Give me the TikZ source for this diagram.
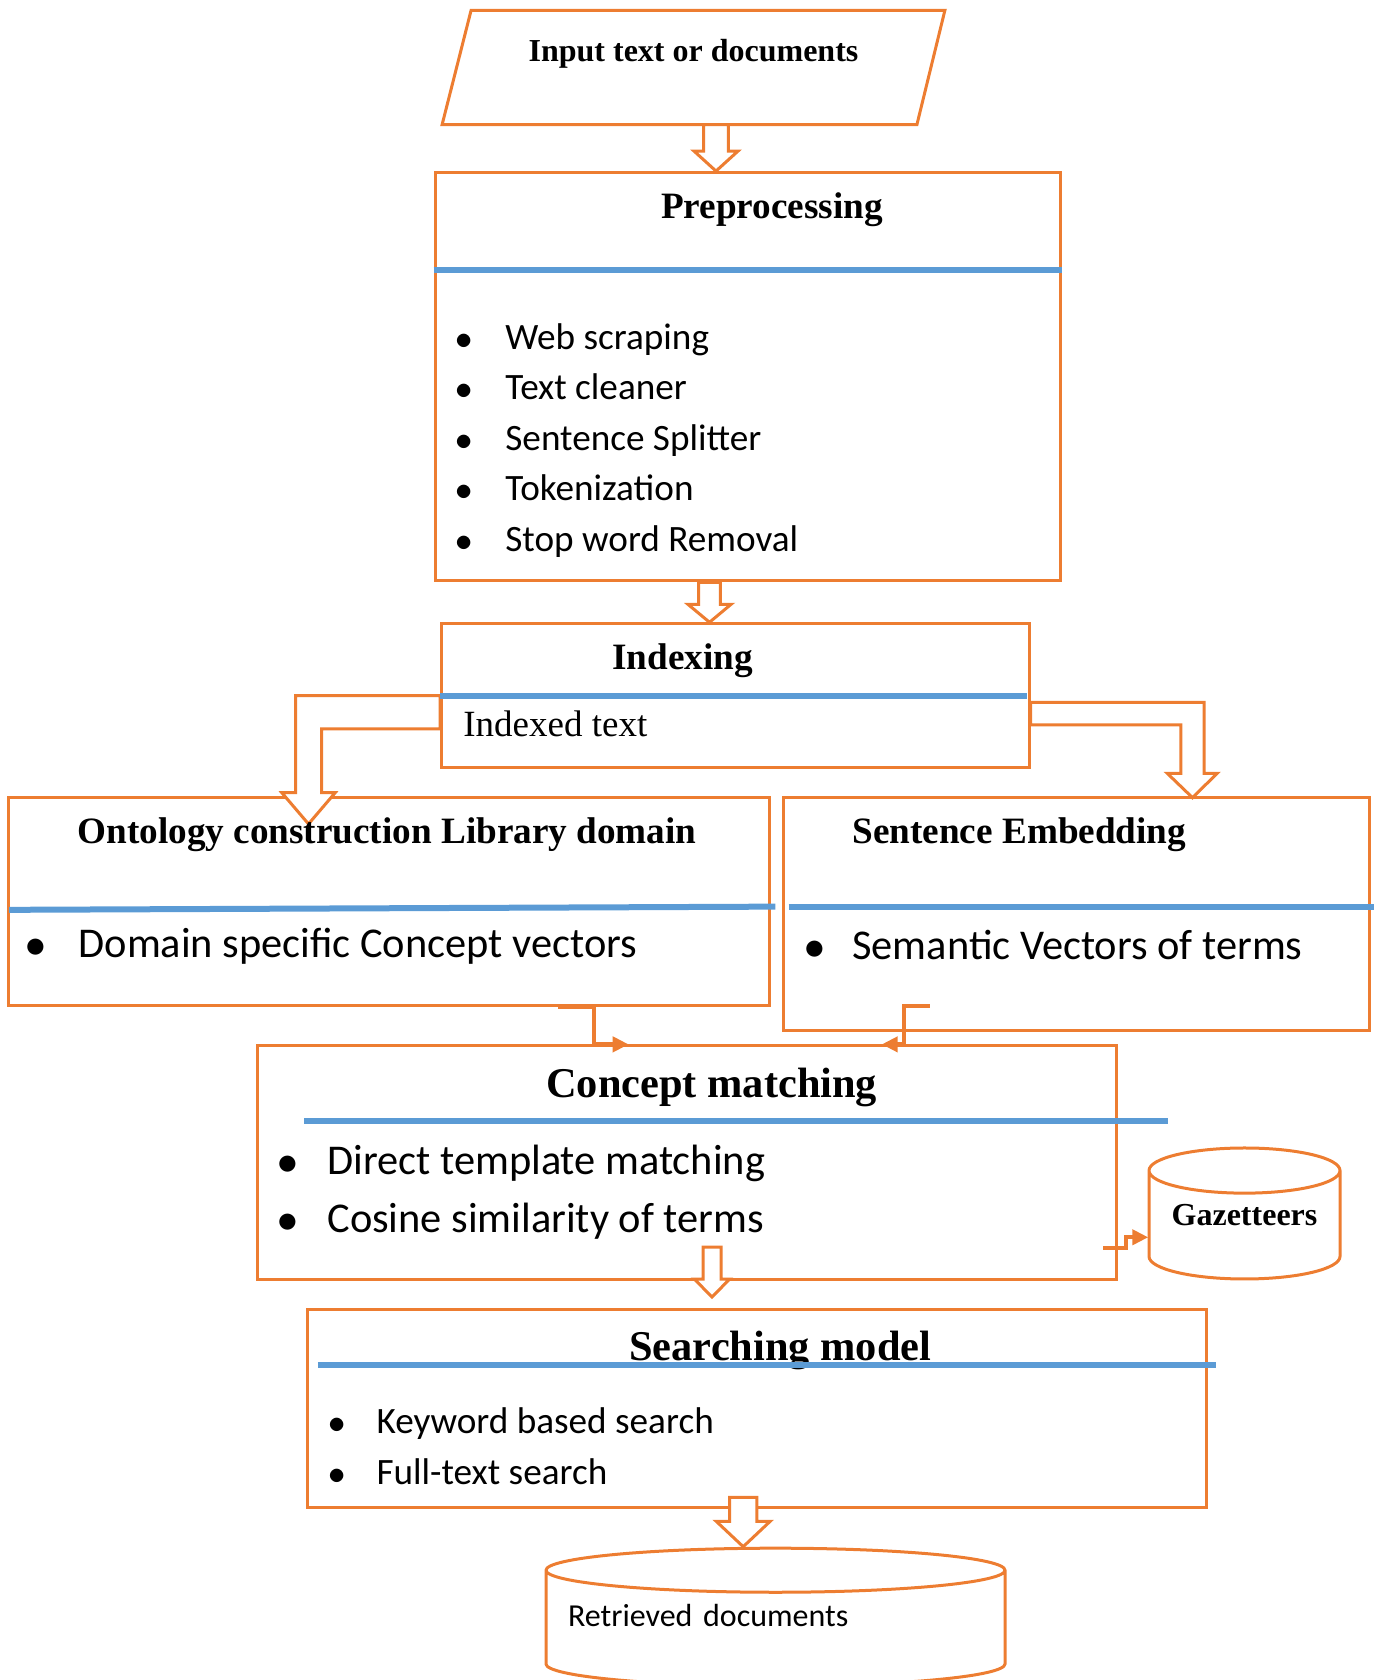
\documentclass[tikz,border=0pt]{standalone}
\usepackage{fontspec}
\setmainfont{Liberation Serif}
\newfontfamily\carlito{Carlito}
\usetikzlibrary{calc,shapes.geometric,arrows.meta}
\definecolor{boxorange}{HTML}{ED7D31}
\definecolor{rulerblue}{HTML}{5B9BD5}
\newcommand{\bul}[1]{\makebox[#1][c]{$\bullet$}}
\newcommand{\blockdown}[5]{%
  \draw[hollow] let \p1=#1, \p2=#2 in
    (\x2-#3,\y1) -- (\x2-#3,\y2+#5) -- (\x2-#4,\y2+#5) -- (\x2,\y2)
    -- (\x2+#4,\y2+#5) -- (\x2+#3,\y2+#5) -- (\x2+#3,\y1) -- cycle;}
\tikzset{
  box/.style={draw=boxorange, line width=1.5pt, inner sep=0pt},
  hollow/.style={draw=boxorange, line width=1.5pt, fill=white, line join=miter},
  link/.style={draw=boxorange, line width=2pt, -{Triangle[length=8pt,width=7.5pt]}},
  ruler/.style={draw=rulerblue, line width=3pt},
  title/.style={inner sep=0pt, font=\fontsize{18.6}{22}\selectfont\bfseries},
  bigtitle/.style={inner sep=0pt, font=\fontsize{21.2}{25}\selectfont\bfseries},
  items/.style={inner sep=0pt, anchor=west, align=left, font=\fontsize{18.6}{25.2}\selectfont\carlito},
  bigitems/.style={inner sep=0pt, anchor=west, align=left, font=\fontsize{21.2}{28.9}\selectfont\carlito},
  store/.style={cylinder, shape border rotate=90, anchor=shape center, draw=boxorange, line width=1.5pt, inner sep=0pt}
}
\begin{document}
\begin{tikzpicture}[x=0.5pt,y=0.5pt]
\useasboundingbox (0,0) rectangle (1374,1680);

\node[inner sep=0pt, minimum width=251pt, minimum height=56.8pt,
  text height=25.45pt, text depth=31.35pt, font=\fontsize{16}{19}\selectfont\bfseries]
  (input) at (693.5,1612.5) {Input text or documents};
\draw[box] (input.south west) -- ($(input.north west)+(29,0)$) -- (input.north east)
  -- ($(input.south east)+(-28,0)$) -- cycle;

\node[box, minimum width=312.5pt, minimum height=204.2pt] (prep) at (747.5,1303.2) {};
\node[box, minimum width=293.7pt, minimum height=71.8pt] (idx) at (735.3,984.4) {};
\node[box, minimum width=380.5pt, minimum height=104pt] (onto) at (389,778.65) {};
\node[box, minimum width=293.2pt, minimum height=116.8pt] (sent) at (1076.7,765.8) {};
\node[box, minimum width=429.8pt, minimum height=116.9pt] (cm) at (687,517.2) {};
\node[box, minimum width=449.6pt, minimum height=99.2pt] (search) at (757.2,271.2) {};
\node[store, aspect=0.31, minimum width=95.5pt, minimum height=65.5pt, text depth=10.7pt,
  font=\fontsize{16}{19}\selectfont\bfseries] (gaz) at (1244.5,466.5) {Gazetteers};
\node[store, aspect=0.096, minimum width=229.5pt, minimum height=68.9pt, inner xsep=11pt,
  text width=207.5pt, text depth=18.2pt, align=left, font=\fontsize{16}{19}\selectfont\carlito]
  (ret) at (775.5,62.9) {Retrieved documents};

\blockdown{(716,0 |- input.south)}{(716,0 |- prep.north)}{6.2pt}{11pt}{10pt}
\blockdown{(709.5,0 |- prep.south)}{(709.5,0 |- idx.north)}{5.4pt}{10.8pt}{9pt}
\blockdown{($(cm.south)+(25,34)$)}{($(search.north)+(-45.2,11)$)}{4.5pt}{8.8pt}{9pt}
\blockdown{($(search.south)+(-14,12)$)}{(743.2,0 |- ret.north)}{6.8pt}{13.5pt}{12.7pt}

\draw[hollow] (idx.west) -- ++(-144.6,0) -- ++(0,-97.1) -- ++(-13.7,0) -- ++(26.7,-31.3)
  -- ++(26.7,31.3) -- ++(-13.7,0) -- ++(0,63.9) -- ++(118.6,0) -- cycle;
\draw[hollow] ($(idx.east)+(0,-6.7)$) -- ++(173.7,0) -- ++(0,-71) -- ++(13,0) -- ++(-24.7,-24.4)
  -- ++(-25.3,24.4) -- ++(13.6,0) -- ++(0,48.3) -- ++(-150.3,0) -- cycle;

\draw[link] ($(onto.south)+(169,0)$) -| ($(cm.north west)+(338,0)$) -- ($(cm.north west)+(373,0)$);
\draw[link] ($(sent.south)+(-147,26)$) -| ($(cm.north west)+(648,0)$) -- ($(cm.north west)+(626,0)$);
\draw[link] ($(cm.south east)+(-15,33)$) -- ++(23,0) |- ($(gaz.shape center)+(-96.2,-23.8)$);

\node[title] (preptitle) at (772,1470) {Preprocessing};
\node[title] (idxtitle) at (682.7,1019) {Indexing};
\node[title] (ontotitle) at (387,845) {Ontology construction Library domain};
\node[title] (senttitle) at (1019.3,845.3) {Sentence Embedding};
\node[bigtitle] (cmtitle) at (711.7,592.4) {Concept matching};
\node[bigtitle] (searchtitle) at (780.3,329.8) {Searching model};

\node[items] (preplist) at (423,1239.5) {\bul{41pt}Web scraping\\ \bul{41pt}Text cleaner\\
  \bul{41pt}Sentence Splitter\\ \bul{41pt}Tokenization\\ \bul{41pt}Stop word Removal};
\node[inner sep=0pt, anchor=west, font=\fontsize{18.5}{22}\selectfont] (idxtext) at (463,956.5) {Indexed text};
\node[bigitems] (ontolist) at (-7.4,733.6) {\bul{42.8pt}Domain specific Concept vectors};
\node[bigitems] (sentlist) at (777.2,734.7) {\bul{37.4pt}Semantic Vectors of terms};
\node[bigitems] (cmlist) at (247.4,488) {\bul{39.8pt}Direct template matching\\
  \bul{39.8pt}Cosine similarity of terms};
\node[items] (searchlist) at (296.8,233.6) {\bul{39.7pt}Keyword based search\\ \bul{39.7pt}Full-text search};

\draw[ruler] ($(prep.north west)+(0,-98.6)$) -- ($(prep.north east)+(0,-98.6)$);
\draw[ruler] (idx.west) -- ($(idx.east)+(-3.3,0)$);
\draw[ruler] ($(onto.north west)+(2.1,-114)$) -- ($(onto.north east)+(4.3,-110.8)$);
\draw[ruler] ($(sent.north west)+(6.5,-111.5)$) -- ($(sent.north east)+(2.2,-111.5)$);
\draw[ruler] ($(cm.north west)+(48.3,-76.2)$) -- ($(cm.north east)+(49.2,-76.2)$);
\draw[ruler] ($(search.north west)+(11.8,-56.9)$) -- ($(search.north east)+(7.6,-56.9)$);
\end{tikzpicture}
\end{document}
